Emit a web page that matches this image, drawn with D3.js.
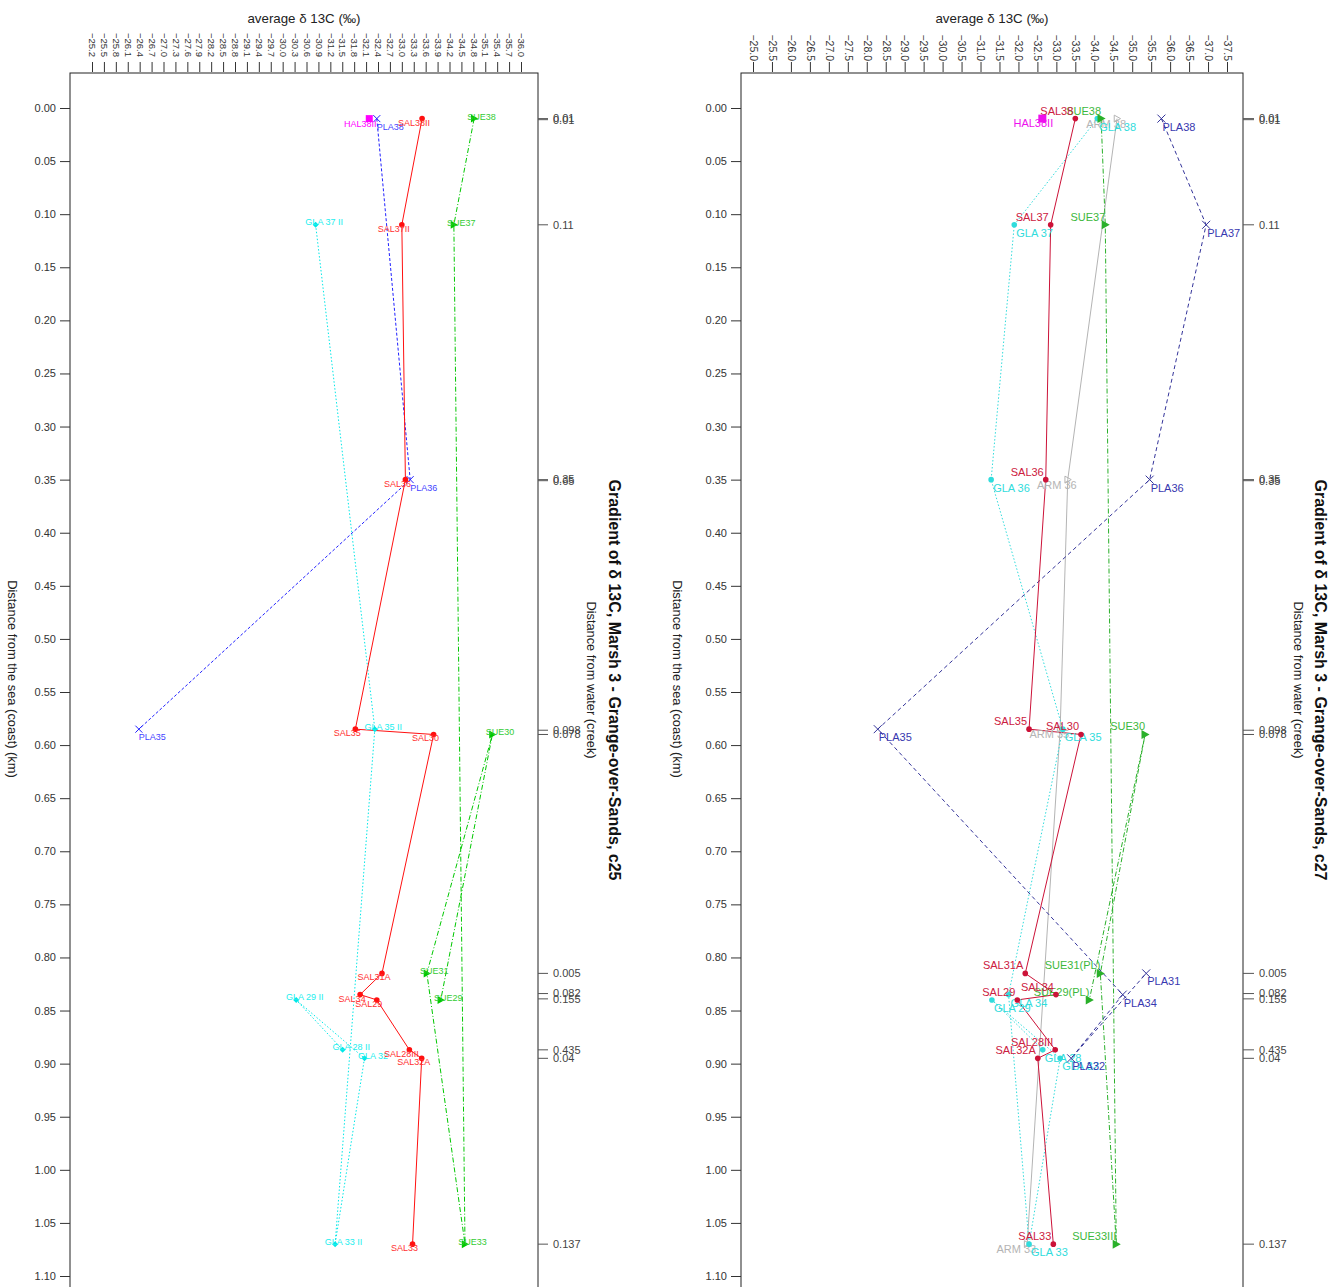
<!DOCTYPE html>
<html>
<head>
<meta charset="utf-8">
<script src="https://cdn.jsdelivr.net/npm/d3@7"></script>
<style>
body { margin: 0; background: #fff; }
svg { display: block; }
text { font-family: 'Liberation Sans', Arial, sans-serif; }
</style>
</head>
<body>
<svg width="1341" height="1287"></svg>
<script>

// ---- shared axis values
const yTicks = [0.00,0.05,0.10,0.15,0.20,0.25,0.30,0.35,0.40,0.45,0.50,0.55,0.60,0.65,0.70,0.75,0.80,0.85,0.90,0.95,1.00,1.05,1.10]

const c25Ticks = [-25.2,-25.5,-25.8,-26.1,-26.4,-26.7,-27.0,-27.3,-27.6,-27.9,-28.2,-28.5,-28.8,-29.1,-29.4,-29.7,-30.0,-30.3,-30.6,-30.9,-31.2,-31.5,-31.8,-32.1,-32.4,-32.7,-33.0,-33.3,-33.6,-33.9,-34.2,-34.5,-34.8,-35.1,-35.4,-35.7,-36.0]
const c27Ticks = [-25.0,-25.5,-26.0,-26.5,-27.0,-27.5,-28.0,-28.5,-29.0,-29.5,-30.0,-30.5,-31.0,-31.5,-32.0,-32.5,-33.0,-33.5,-34.0,-34.5,-35.0,-35.5,-36.0,-36.5,-37.0,-37.5]

// distance from water (creek), shown on the right axis at the sea distance
const creekPos = [0.01,0.011,0.11,0.35,0.351,0.586,0.59,0.815,0.834,0.839,0.887,0.895,1.07]
const c25CreekLabels = ["0.01","0.01","0.11","0.35","0.65","0.098","0.078","0.005","0.082","0.155","0.435","0.04","0.137"]
const c27CreekLabels = ["0.01","0.01","0.11","0.35","0.35","0.098","0.078","0.005","0.082","0.155","0.435","0.04","0.137"]

// ---- c25 series (drawing order)
const c25SalNames = ["SAL38II","SAL37II","SAL36","SAL35","SAL30","SAL31A","SAL34","SAL29","SAL28III","SAL32A","SAL33"]
const c25SalDist  = [0.01,0.11,0.35,0.585,0.59,0.815,0.835,0.84,0.887,0.895,1.07]
const c25SalVal   = [-33.51,-33.00,-33.09,-31.83,-33.80,-32.50,-31.95,-32.37,-33.19,-33.50,-33.27]

const c25PlaNames = ["PLA38","PLA36","PLA35"]
const c25PlaDist  = [0.01,0.35,0.585]
const c25PlaVal   = [-32.37,-33.21,-26.38]

const c25HalNames = ["HAL38II"]
const c25HalDist  = [0.01]
const c25HalVal   = [-32.18]

const c25SueNames = ["SUE38","SUE37","SUE33","SUE31","SUE30","SUE29"]
const c25SueDist  = [0.01,0.11,1.07,0.815,0.59,0.84]
const c25SueVal   = [-34.82,-34.31,-34.59,-33.63,-35.28,-33.98]

const c25GlaNames = ["GLA 37 II","GLA 35 II","GLA 33 II","GLA 32","GLA 29 II","GLA 28 II"]
const c25GlaDist  = [0.11,0.585,1.07,0.895,0.84,0.887]
const c25GlaVal   = [-30.83,-32.32,-31.32,-32.06,-30.34,-31.51]

// ---- c27 series (drawing order)
const c27SalNames = ["SAL38","SAL37","SAL36","SAL35","SAL30","SAL31A","SAL34","SAL29","SAL28III","SAL32A","SAL33"]
const c27SalDist  = [0.01,0.11,0.35,0.585,0.59,0.815,0.835,0.84,0.887,0.895,1.07]
const c27SalVal   = [-33.50,-32.85,-32.72,-32.28,-33.65,-32.18,-32.99,-31.97,-32.97,-32.51,-32.92]

const c27PlaNames = ["PLA38","PLA37","PLA36","PLA35","PLA34","PLA32","PLA31"]
const c27PlaDist  = [0.01,0.11,0.35,0.585,0.835,0.895,0.815]
const c27PlaVal   = [-35.77,-36.95,-35.46,-28.29,-34.75,-33.39,-35.37]

const c27SueNames = ["SUE38","SUE37","SUE33III","SUE31(PL)","SUE30","SUE29(PL)"]
const c27SueDist  = [0.01,0.11,1.07,0.815,0.59,0.84]
const c27SueVal   = [-34.18,-34.29,-34.58,-34.16,-35.34,-33.87]

const c27GlaNames = ["GLA 38","GLA 37","GLA 36","GLA 35","GLA 34","GLA 33","GLA 32","GLA 29","GLA 28"]
const c27GlaDist  = [0.01,0.11,0.35,0.585,0.835,1.07,0.895,0.84,0.887]
const c27GlaVal   = [-34.08,-31.89,-31.28,-33.17,-31.74,-32.28,-33.10,-31.30,-32.64]

const c27ArmNames = ["ARM 38","ARM 36","ARM 35","ARM 33"]
const c27ArmDist  = [0.01,0.35,0.585,1.07]
const c27ArmVal   = [-34.60,-33.30,-33.10,-32.23]

const c27HalNames = ["HAL38II"]
const c27HalDist  = [0.01]
const c27HalVal   = [-32.63]


const svg = d3.select("svg")
const fontFam = "'Liberation Sans', Arial, sans-serif"

function pack(names, dist, vals) {
  return names.map((n, i) => ({name: n, dist: dist[i], val: vals[i]}))
}

function marker(g, type, color, s) {
  if (type == "circle") {
    g.append("circle").attr("r", s).attr("fill", color)
  } else if (type == "cross") {
    g.append("path").attr("d", `M${-s},${-s}L${s},${s}M${-s},${s}L${s},${-s}`)
      .attr("stroke", color).attr("stroke-width", 1).attr("fill", "none")
  } else if (type == "square") {
    g.append("rect").attr("x", -s).attr("y", -s).attr("width", 2*s).attr("height", 2*s).attr("fill", color)
  } else if (type == "triangle") {
    // right pointing (plot is turned by 90 degrees)
    g.append("path").attr("d", `M${-s*0.8},${-s}L${s},0L${-s*0.8},${s}Z`).attr("fill", color)
  } else if (type == "otriangle") {
    g.append("path").attr("d", `M${-s*0.8},${-s}L${s},0L${-s*0.8},${s}Z`)
      .attr("fill", "none").attr("stroke", color).attr("stroke-width", 1)
  } else if (type == "diamond") {
    g.append("path").attr("d", `M0,${-s}L${s},0L0,${s}L${-s},0Z`).attr("fill", color)
  }
}

function drawPanel(p) {
  const x = d3.scaleLinear().domain(p.xDomain).range(p.xRange)
  const y = d3.scaleLinear().domain([0, 1.1]).range([108, 1276])
  const top = 73, bottom = 1310

  const g = svg.append("g")

  // box
  g.append("rect")
    .attr("x", p.left).attr("y", top)
    .attr("width", p.right - p.left).attr("height", bottom - top)
    .attr("fill", "none").attr("stroke", "#222").attr("stroke-width", 1)

  // top axis (delta 13C)
  const topAxis = d3.axisTop(x).tickValues(p.xTicks).tickSize(10).tickFormat(d3.format(".1f"))
  const ta = g.append("g").attr("transform", `translate(0,${top - 1})`).call(topAxis)
  ta.select(".domain").remove()
  ta.selectAll("line").attr("stroke", "#333")
  ta.selectAll("text")
    .attr("transform", function(d) { return `translate(0,${p.xLabEnd - (top - 1)}) rotate(90)` })
    .attr("x", 0).attr("y", 0).attr("dy", "0.35em")
    .attr("text-anchor", "end")
    .attr("fill", "#333")
    .style("font-size", p.xLabSize + "px")
    .style("font-family", fontFam)

  g.append("text")
    .attr("x", (p.left + p.right) / 2).attr("y", 23)
    .attr("text-anchor", "middle")
    .style("font-size", "13.3px").attr("fill", "#222")
    .text("average δ 13C (‰)")

  // left axis (distance from the sea)
  const leftAxis = d3.axisLeft(y).tickValues(yTicks).tickSize(10).tickPadding(4).tickFormat(d3.format(".2f"))
  const la = g.append("g").attr("transform", `translate(${p.left},0)`).call(leftAxis)
  la.select(".domain").remove()
  la.selectAll("line").attr("stroke", "#333")
  la.selectAll("text").attr("fill", "#333").style("font-size", "11px").style("font-family", fontFam)

  g.append("text")
    .attr("transform", `translate(${p.ylabX},679) rotate(90)`)
    .attr("dy", "0.35em").attr("text-anchor", "middle")
    .style("font-size", "12.9px").attr("fill", "#222")
    .text("Distance from the sea (coast) (km)")

  // right axis (distance from water)
  const ra = g.append("g").attr("transform", `translate(${p.right},0)`)
  ra.selectAll("line").data(creekPos).join("line")
    .attr("x1", 0).attr("x2", p.rTick).attr("y1", d => y(d)).attr("y2", d => y(d))
    .attr("stroke", "#555")
  ra.selectAll("text").data(p.creekLabels).join("text")
    .attr("x", p.rTick + 5).attr("y", (d, i) => y(creekPos[i]))
    .attr("dy", "0.35em")
    .style("font-size", "11px").attr("fill", "#444")
    .text(d => d)

  g.append("text")
    .attr("transform", `translate(${p.subX},680) rotate(90)`)
    .attr("dy", "0.35em").attr("text-anchor", "middle")
    .style("font-size", "12.8px").attr("fill", "#222")
    .text("Distance from water (creek)")

  g.append("text")
    .attr("transform", `translate(${p.titleX},680) rotate(90)`)
    .attr("dy", "0.35em").attr("text-anchor", "middle")
    .style("font-size", "16px").style("font-weight", "bold").attr("fill", "#111")
    .text(p.title)

  // series
  const line = d3.line().x(d => x(d.val)).y(d => y(d.dist))
  p.series.forEach(s => {
    if (s.data.length > 1) {
      g.append("path").datum(s.data)
        .attr("d", line)
        .attr("fill", "none")
        .attr("stroke", s.color)
        .attr("stroke-width", s.width || 1)
        .attr("stroke-dasharray", s.dash || null)
    }
  })
  p.series.forEach(s => {
    s.data.forEach(d => {
      const m = g.append("g").attr("transform", `translate(${x(d.val)},${y(d.dist)})`)
      marker(m, s.marker, s.color, s.msize)
      m.append("text")
        .attr("x", s.lab.dx).attr("y", s.lab.dy)
        .attr("text-anchor", s.lab.anchor)
        .style("font-size", p.labSize + "px")
        .attr("fill", s.labColor || s.color)
        .text(d.name)
    })
  })
}

drawPanel({
  left: 70, right: 538,
  xDomain: [-25.2, -36.0], xRange: [92, 521],
  xTicks: c25Ticks, xLabEnd: 57, xLabSize: 9.5,
  ylabX: 13, subX: 591, titleX: 615, rTick: 10,
  creekLabels: c25CreekLabels,
  title: "Gradient of δ 13C, Marsh 3 - Grange-over-Sands, c25",
  labSize: 9,
  series: [
    {data: pack(c25GlaNames, c25GlaDist, c25GlaVal), color: "#00e8e8", labColor: "#22eeee", dash: "1.5,2", marker: "diamond", msize: 3,
      lab: {anchor: "middle", dx: 8.5, dy: 0.5}},
    {data: pack(c25SueNames, c25SueDist, c25SueVal), color: "#00c800", labColor: "#33cc33", dash: "5,2,1,2", marker: "triangle", msize: 4,
      lab: {anchor: "middle", dx: 7.5, dy: 1}},
    {data: pack(c25PlaNames, c25PlaDist, c25PlaVal), color: "#2020ff", labColor: "#4444ff", dash: "3,2", marker: "cross", msize: 3.5,
      lab: {anchor: "middle", dx: 13.5, dy: 11}},
    {data: pack(c25SalNames, c25SalDist, c25SalVal), color: "#ff1010", labColor: "#ff3030", marker: "circle", msize: 2.8,
      lab: {anchor: "middle", dx: -8, dy: 7}},
    {data: pack(c25HalNames, c25HalDist, c25HalVal), color: "#ff00ff", marker: "square", msize: 3.5,
      lab: {anchor: "middle", dx: -9, dy: 8}}
  ]
})

drawPanel({
  left: 741, right: 1243,
  xDomain: [-25.0, -37.5], xRange: [753, 1227],
  xTicks: c27Ticks, xLabEnd: 61, xLabSize: 10.5,
  ylabX: 678, subX: 1298, titleX: 1321, rTick: 11,
  creekLabels: c27CreekLabels,
  title: "Gradient of δ 13C, Marsh 3 - Grange-over-Sands, c27",
  labSize: 11,
  series: [
    {data: pack(c27ArmNames, c27ArmDist, c27ArmVal), color: "#b4b4b4", marker: "otriangle", msize: 3.5,
      lab: {anchor: "end", dx: 9, dy: 9}},
    {data: pack(c27GlaNames, c27GlaDist, c27GlaVal), color: "#30dcdc", dash: "1.5,2", marker: "circle", msize: 2.8,
      lab: {anchor: "start", dx: 2, dy: 12}},
    {data: pack(c27SueNames, c27SueDist, c27SueVal), color: "#2ab02a", labColor: "#3cb83c", dash: "5,2,1,2", marker: "triangle", msize: 4.5,
      lab: {anchor: "end", dx: 0, dy: -4}},
    {data: pack(c27PlaNames, c27PlaDist, c27PlaVal), color: "#34349a", labColor: "#3838b0", dash: "4,3", marker: "cross", msize: 4,
      lab: {anchor: "start", dx: 1, dy: 12}},
    {data: pack(c27SalNames, c27SalDist, c27SalVal), color: "#cc1238", labColor: "#cc2040", marker: "circle", msize: 2.8,
      lab: {anchor: "end", dx: -2, dy: -4}},
    {data: pack(c27HalNames, c27HalDist, c27HalVal), color: "#ee10ee", marker: "square", msize: 4,
      lab: {anchor: "middle", dx: -9, dy: 8.5}}
  ]
})

</script>
</body>
</html>
